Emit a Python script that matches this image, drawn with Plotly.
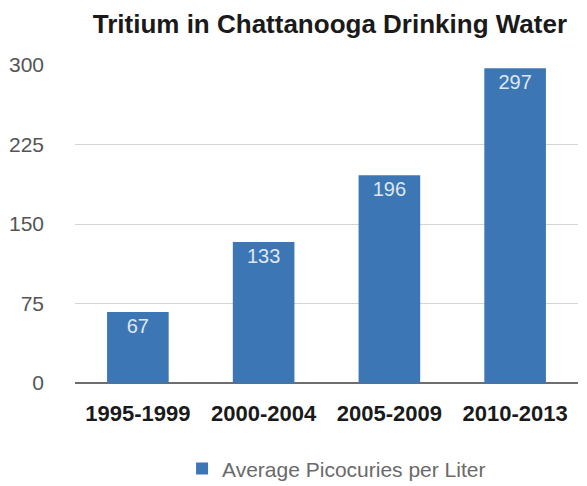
import plotly.graph_objects as go

# Tritium levels by period
periods = ["1995-1999", "2000-2004", "2005-2009", "2010-2013"]
picocuries = [67, 133, 196, 297]
y_ticks = [0, 75, 150, 225, 300]

bar_color = "#3d76b4"
font_family = "Liberation Sans, Arial, Helvetica, sans-serif"

fig = go.Figure()
fig.add_trace(go.Bar(
    x=periods,
    y=picocuries,
    name="Average Picocuries per Liter",
    marker=dict(color=bar_color, line=dict(width=0)),
    text=[str(v) for v in picocuries],
    textposition="inside",
    insidetextanchor="end",
    textangle=0,
    textfont=dict(color="#dfe7f1", size=20, family=font_family),
    cliponaxis=False,
))

fig.update_layout(
    width=587,
    height=486,
    margin=dict(l=75, r=9, t=65, b=103, autoexpand=False),
    paper_bgcolor="white",
    plot_bgcolor="white",
    bargap=0.51,
    font=dict(family=font_family),
    title=dict(
        text="<b>Tritium in Chattanooga Drinking Water</b>",
        x=0.562, xanchor="center",
        y=0.951, yanchor="middle",
        font=dict(size=26, color="#1a1a1a", family=font_family),
    ),
    xaxis=dict(
        showgrid=False,
        showline=False,
        ticks="",
        tickfont=dict(size=22, color="#1a1a1a", family=font_family, weight="bold"),
        ticklabelstandoff=15,
    ),
    yaxis=dict(
        range=[0, 300],
        tickvals=y_ticks,
        showgrid=True,
        gridcolor="#d4d4d4",
        gridwidth=1,
        zeroline=True,
        zerolinecolor="#6e6e6e",
        zerolinewidth=2,
        showline=False,
        ticks="",
        tickfont=dict(size=21, color="#555555", family=font_family),
        ticklabelstandoff=30,
    ),
    showlegend=True,
    legend=dict(
        orientation="h",
        x=0.52, xanchor="center",
        y=-0.27, yanchor="middle",
        font=dict(size=21, color="#6a6a6a", family=font_family),
        itemwidth=30,
    ),
)

fig.write_html("out.html")
